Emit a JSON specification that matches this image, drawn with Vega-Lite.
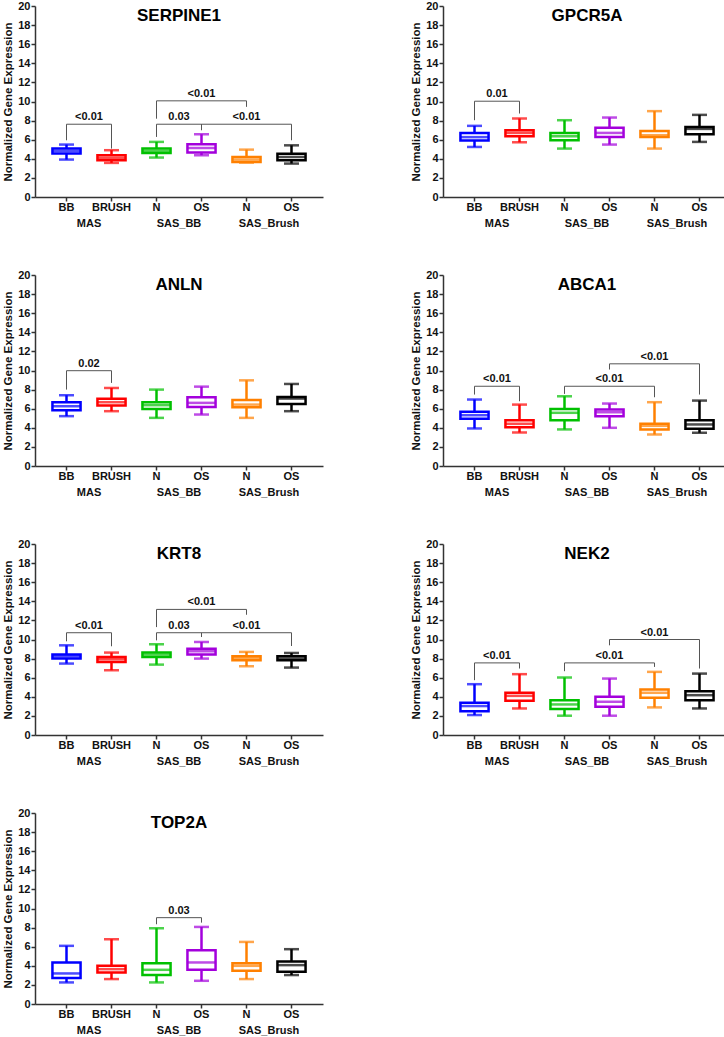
{
  "$schema": "https://vega.github.io/schema/vega-lite/v6.json",
  "padding": {"left": 2, "top": 0, "right": 0, "bottom": 12},
  "config": {
    "font": "Liberation Sans",
    "view": {"stroke": null},
    "header": {"labels": false, "title": null, "labelExpr": "''", "labelFontSize": 0, "labelPadding": 0},
    "axis": {"labelFont": "Liberation Sans", "titleFont": "Liberation Sans", "labelColor": "#111", "titleColor": "#111", "domainColor": "#333", "domainWidth": 1.5, "tickColor": "#333", "tickWidth": 1.5, "grid": false, "labelFontSize": 11, "labelFontWeight": "bold", "tickSize": 4},
    "axisY": {"tickCount": 10, "labelOverlap": false, "labelPadding": 1, "titleFontSize": 11.5, "titleFontWeight": "bold", "titlePadding": 4}
  },
  "data": {"values": [
    {"gene": "SERPINE1", "cond": "MAS BB", "min": 3.92, "q1": 4.55, "med": 4.83, "q3": 5.07, "max": 5.49},
    {"gene": "SERPINE1", "cond": "MAS BRUSH", "min": 3.57, "q1": 3.85, "med": 4.1, "q3": 4.37, "max": 4.9},
    {"gene": "SERPINE1", "cond": "SAS_BB N", "min": 4.13, "q1": 4.6, "med": 4.83, "q3": 5.07, "max": 5.77},
    {"gene": "SERPINE1", "cond": "SAS_BB OS", "min": 4.37, "q1": 4.65, "med": 5.13, "q3": 5.52, "max": 6.57},
    {"gene": "SERPINE1", "cond": "SAS_Brush N", "min": 3.6, "q1": 3.67, "med": 3.92, "q3": 4.19, "max": 4.96},
    {"gene": "SERPINE1", "cond": "SAS_Brush OS", "min": 3.5, "q1": 3.84, "med": 4.19, "q3": 4.54, "max": 5.41},
    {"gene": "GPCR5A", "cond": "MAS BB", "min": 5.24, "q1": 5.92, "med": 6.27, "q3": 6.71, "max": 7.45},
    {"gene": "GPCR5A", "cond": "MAS BRUSH", "min": 5.73, "q1": 6.36, "med": 6.71, "q3": 7.0, "max": 8.22},
    {"gene": "GPCR5A", "cond": "SAS_BB N", "min": 5.07, "q1": 5.94, "med": 6.36, "q3": 6.71, "max": 8.04},
    {"gene": "GPCR5A", "cond": "SAS_BB OS", "min": 5.49, "q1": 6.29, "med": 6.71, "q3": 7.24, "max": 8.32},
    {"gene": "GPCR5A", "cond": "SAS_Brush N", "min": 5.07, "q1": 6.29, "med": 6.47, "q3": 6.92, "max": 8.99},
    {"gene": "GPCR5A", "cond": "SAS_Brush OS", "min": 5.77, "q1": 6.57, "med": 7.13, "q3": 7.34, "max": 8.6},
    {"gene": "ANLN", "cond": "MAS BB", "min": 5.22, "q1": 5.84, "med": 6.26, "q3": 6.68, "max": 7.41},
    {"gene": "ANLN", "cond": "MAS BRUSH", "min": 5.74, "q1": 6.33, "med": 6.68, "q3": 7.03, "max": 8.17},
    {"gene": "ANLN", "cond": "SAS_BB N", "min": 5.04, "q1": 5.98, "med": 6.37, "q3": 6.68, "max": 8.0},
    {"gene": "ANLN", "cond": "SAS_BB OS", "min": 5.39, "q1": 6.19, "med": 6.61, "q3": 7.2, "max": 8.31},
    {"gene": "ANLN", "cond": "SAS_Brush N", "min": 5.04, "q1": 6.16, "med": 6.43, "q3": 6.92, "max": 8.97},
    {"gene": "ANLN", "cond": "SAS_Brush OS", "min": 5.74, "q1": 6.5, "med": 7.06, "q3": 7.23, "max": 8.59},
    {"gene": "ABCA1", "cond": "MAS BB", "min": 3.93, "q1": 4.94, "med": 5.32, "q3": 5.67, "max": 6.96},
    {"gene": "ABCA1", "cond": "MAS BRUSH", "min": 3.51, "q1": 4.07, "med": 4.42, "q3": 4.8, "max": 6.43},
    {"gene": "ABCA1", "cond": "SAS_BB N", "min": 3.83, "q1": 4.8, "med": 5.57, "q3": 5.98, "max": 7.3},
    {"gene": "ABCA1", "cond": "SAS_BB OS", "min": 4.0, "q1": 5.22, "med": 5.63, "q3": 5.91, "max": 6.54},
    {"gene": "ABCA1", "cond": "SAS_Brush N", "min": 3.3, "q1": 3.83, "med": 4.21, "q3": 4.42, "max": 6.68},
    {"gene": "ABCA1", "cond": "SAS_Brush OS", "min": 3.48, "q1": 3.9, "med": 4.35, "q3": 4.8, "max": 6.85},
    {"gene": "KRT8", "cond": "MAS BB", "min": 7.48, "q1": 8.0, "med": 8.24, "q3": 8.42, "max": 9.39},
    {"gene": "KRT8", "cond": "MAS BRUSH", "min": 6.78, "q1": 7.65, "med": 7.93, "q3": 8.17, "max": 8.63},
    {"gene": "KRT8", "cond": "SAS_BB N", "min": 7.37, "q1": 8.17, "med": 8.42, "q3": 8.63, "max": 9.5},
    {"gene": "KRT8", "cond": "SAS_BB OS", "min": 8.0, "q1": 8.42, "med": 8.77, "q3": 9.04, "max": 9.74},
    {"gene": "KRT8", "cond": "SAS_Brush N", "min": 7.2, "q1": 7.83, "med": 8.07, "q3": 8.24, "max": 8.7},
    {"gene": "KRT8", "cond": "SAS_Brush OS", "min": 7.06, "q1": 7.83, "med": 8.0, "q3": 8.24, "max": 8.59},
    {"gene": "NEK2", "cond": "MAS BB", "min": 2.09, "q1": 2.5, "med": 3.03, "q3": 3.37, "max": 5.32},
    {"gene": "NEK2", "cond": "MAS BRUSH", "min": 2.78, "q1": 3.58, "med": 4.1, "q3": 4.42, "max": 6.37},
    {"gene": "NEK2", "cond": "SAS_BB N", "min": 2.02, "q1": 2.71, "med": 3.2, "q3": 3.65, "max": 6.02},
    {"gene": "NEK2", "cond": "SAS_BB OS", "min": 2.02, "q1": 2.96, "med": 3.48, "q3": 4.0, "max": 5.91},
    {"gene": "NEK2", "cond": "SAS_Brush N", "min": 2.89, "q1": 3.9, "med": 4.42, "q3": 4.77, "max": 6.61},
    {"gene": "NEK2", "cond": "SAS_Brush OS", "min": 2.78, "q1": 3.65, "med": 4.17, "q3": 4.59, "max": 6.43},
    {"gene": "TOP2A", "cond": "MAS BB", "min": 2.26, "q1": 2.71, "med": 3.2, "q3": 4.35, "max": 6.09},
    {"gene": "TOP2A", "cond": "MAS BRUSH", "min": 2.61, "q1": 3.3, "med": 3.65, "q3": 4.0, "max": 6.78},
    {"gene": "TOP2A", "cond": "SAS_BB N", "min": 2.26, "q1": 3.03, "med": 3.58, "q3": 4.28, "max": 7.93},
    {"gene": "TOP2A", "cond": "SAS_BB OS", "min": 2.43, "q1": 3.58, "med": 4.35, "q3": 5.63, "max": 8.07},
    {"gene": "TOP2A", "cond": "SAS_Brush N", "min": 2.61, "q1": 3.48, "med": 4.0, "q3": 4.28, "max": 6.5},
    {"gene": "TOP2A", "cond": "SAS_Brush OS", "min": 3.03, "q1": 3.37, "med": 4.07, "q3": 4.45, "max": 5.74},
    {"gene": "SERPINE1", "from": "MAS BB", "to": "MAS BRUSH", "mid": "m1", "lev": 7.62, "lo1": 5.94, "lo2": 5.07, "p": "<0.01"},
    {"gene": "SERPINE1", "from": "SAS_BB N", "to": "SAS_Brush N", "mid": "SAS_BB OS", "lev": 10.07, "lo1": 8.2, "lo2": 9.44, "p": "<0.01"},
    {"gene": "SERPINE1", "from": "SAS_BB N", "to": "SAS_BB OS", "mid": "m3", "lev": 7.62, "lo1": 6.29, "lo2": 7.0, "p": "0.03"},
    {"gene": "SERPINE1", "from": "SAS_BB OS", "to": "SAS_Brush OS", "mid": "SAS_Brush N", "lev": 7.62, "lo1": 7.0, "lo2": 5.94, "p": "<0.01"},
    {"gene": "GPCR5A", "from": "MAS BB", "to": "MAS BRUSH", "mid": "m1", "lev": 10.03, "lo1": 8.04, "lo2": 8.74, "p": "0.01"},
    {"gene": "ANLN", "from": "MAS BB", "to": "MAS BRUSH", "mid": "m1", "lev": 9.98, "lo1": 8.0, "lo2": 8.7, "p": "0.02"},
    {"gene": "ABCA1", "from": "MAS BB", "to": "MAS BRUSH", "mid": "m1", "lev": 8.35, "lo1": 7.48, "lo2": 6.78, "p": "<0.01"},
    {"gene": "ABCA1", "from": "SAS_BB N", "to": "SAS_Brush N", "mid": "SAS_BB OS", "lev": 8.35, "lo1": 7.55, "lo2": 7.2, "p": "<0.01"},
    {"gene": "ABCA1", "from": "SAS_BB OS", "to": "SAS_Brush OS", "mid": "SAS_Brush N", "lev": 10.7, "lo1": 10.1, "lo2": 7.48, "p": "<0.01"},
    {"gene": "KRT8", "from": "MAS BB", "to": "MAS BRUSH", "mid": "m1", "lev": 10.71, "lo1": 9.81, "lo2": 9.29, "p": "<0.01"},
    {"gene": "KRT8", "from": "SAS_BB N", "to": "SAS_Brush N", "mid": "SAS_BB OS", "lev": 13.15, "lo1": 11.3, "lo2": 12.59, "p": "<0.01"},
    {"gene": "KRT8", "from": "SAS_BB N", "to": "SAS_BB OS", "mid": "m3", "lev": 10.71, "lo1": 9.91, "lo2": 10.26, "p": "0.03"},
    {"gene": "KRT8", "from": "SAS_BB OS", "to": "SAS_Brush OS", "mid": "SAS_Brush N", "lev": 10.71, "lo1": 10.26, "lo2": 9.32, "p": "<0.01"},
    {"gene": "NEK2", "from": "MAS BB", "to": "MAS BRUSH", "mid": "m1", "lev": 7.55, "lo1": 5.74, "lo2": 6.96, "p": "<0.01"},
    {"gene": "NEK2", "from": "SAS_BB N", "to": "SAS_Brush N", "mid": "SAS_BB OS", "lev": 7.55, "lo1": 6.68, "lo2": 7.13, "p": "<0.01"},
    {"gene": "NEK2", "from": "SAS_BB OS", "to": "SAS_Brush OS", "mid": "SAS_Brush N", "lev": 10.0, "lo1": 9.39, "lo2": 6.96, "p": "<0.01"},
    {"gene": "TOP2A", "from": "SAS_BB N", "to": "SAS_BB OS", "mid": "m3", "lev": 9.04, "lo1": 8.35, "lo2": 8.52, "p": "0.03"}
  ]},
  "facet": {"field": "gene", "type": "nominal", "title": null, "sort": ["SERPINE1", "GPCR5A", "ANLN", "ABCA1", "KRT8", "NEK2", "TOP2A"], "header": {"title": null, "labels": false, "labelExpr": "''", "labelFontSize": 0, "labelPadding": 0}},
  "columns": 2,
  "spacing": {"row": 41, "column": 87},
  "resolve": {"axis": {"x": "independent", "y": "independent"}},
  "spec": {
    "width": 288,
    "height": 191,
    "layer": [
      {
        "transform": [{"filter": "datum.cond != null"}],
        "mark": {"type": "rule", "strokeWidth": 2.5},
        "encoding": {
          "x": {"field": "cond", "type": "nominal", "title": null,
            "scale": {"domain": ["MAS BB", "m1", "MAS BRUSH", "m2", "SAS_BB N", "m3", "SAS_BB OS", "m4", "SAS_Brush N", "m5", "SAS_Brush OS"], "paddingInner": 0, "paddingOuter": 0.9},
            "axis": {"title": null, "values": ["MAS BB", "m1", "MAS BRUSH", "SAS_BB N", "m3", "SAS_BB OS", "SAS_Brush N", "m5", "SAS_Brush OS"],
              "labelExpr": "datum.value == 'm1' ? ['', 'MAS'] : datum.value == 'm3' ? ['', 'SAS_BB'] : datum.value == 'm5' ? ['', 'SAS_Brush'] : split(datum.value, ' ')[1]",
              "labelAngle": 0, "labelLineHeight": 16, "labelOverlap": false, "labelBaseline": "top", "labelPadding": 0,
              "tickOpacity": {"condition": {"test": "indexof(datum.value, 'm') == 0", "value": 0}, "value": 1}}},
          "y": {"field": "min", "type": "quantitative", "title": "Normalized Gene Expression", "scale": {"domain": [0, 20], "nice": false},
            "axis": {"title": "Normalized Gene Expression", "tickCount": 10, "labelOverlap": false}},
          "y2": {"field": "max"},
          "color": {"field": "cond", "type": "nominal", "legend": null, "scale": {"domain": ["MAS BB", "MAS BRUSH", "SAS_BB N", "SAS_BB OS", "SAS_Brush N", "SAS_Brush OS"], "range": ["#0000FF", "#FF0000", "#00C000", "#A300DC", "#FF8000", "#000000"]}}
        }
      },
      {
        "transform": [{"filter": "datum.cond != null"}, {"fold": ["min", "max"], "as": ["stat", "v"]}],
        "mark": {"type": "tick", "thickness": 2.5, "size": 15},
        "encoding": {
          "x": {"field": "cond", "type": "nominal", "scale": {"domain": ["MAS BB", "m1", "MAS BRUSH", "m2", "SAS_BB N", "m3", "SAS_BB OS", "m4", "SAS_Brush N", "m5", "SAS_Brush OS"]}},
          "y": {"field": "v", "type": "quantitative", "scale": {"domain": [0, 20], "nice": false}},
          "color": {"field": "cond", "type": "nominal", "legend": null}
        }
      },
      {
        "transform": [{"filter": "datum.cond != null"}],
        "mark": {"type": "bar", "fill": "white", "strokeWidth": 2.5, "width": {"band": 1.25}},
        "encoding": {
          "x": {"field": "cond", "type": "nominal", "scale": {"domain": ["MAS BB", "m1", "MAS BRUSH", "m2", "SAS_BB N", "m3", "SAS_BB OS", "m4", "SAS_Brush N", "m5", "SAS_Brush OS"]}},
          "y": {"field": "q1", "type": "quantitative", "scale": {"domain": [0, 20], "nice": false}},
          "y2": {"field": "q3"},
          "stroke": {"field": "cond", "type": "nominal", "legend": null, "scale": {"domain": ["MAS BB", "MAS BRUSH", "SAS_BB N", "SAS_BB OS", "SAS_Brush N", "SAS_Brush OS"], "range": ["#0000FF", "#FF0000", "#00C000", "#A300DC", "#FF8000", "#000000"]}}
        }
      },
      {
        "transform": [{"filter": "datum.cond != null"}],
        "mark": {"type": "tick", "thickness": 2.5, "size": 27},
        "encoding": {
          "x": {"field": "cond", "type": "nominal", "scale": {"domain": ["MAS BB", "m1", "MAS BRUSH", "m2", "SAS_BB N", "m3", "SAS_BB OS", "m4", "SAS_Brush N", "m5", "SAS_Brush OS"]}},
          "y": {"field": "med", "type": "quantitative", "scale": {"domain": [0, 20], "nice": false}},
          "color": {"field": "cond", "type": "nominal", "legend": null}
        }
      },
      {
        "transform": [{"filter": "datum.from != null"}],
        "mark": {"type": "rule", "color": "#555", "strokeWidth": 1},
        "encoding": {
          "x": {"field": "from", "type": "nominal", "scale": {"domain": ["MAS BB", "m1", "MAS BRUSH", "m2", "SAS_BB N", "m3", "SAS_BB OS", "m4", "SAS_Brush N", "m5", "SAS_Brush OS"]}},
          "x2": {"field": "to"},
          "y": {"field": "lev", "type": "quantitative", "scale": {"domain": [0, 20], "nice": false}}
        }
      },
      {
        "transform": [{"filter": "datum.from != null"}],
        "mark": {"type": "rule", "color": "#555", "strokeWidth": 1},
        "encoding": {
          "x": {"field": "from", "type": "nominal", "scale": {"domain": ["MAS BB", "m1", "MAS BRUSH", "m2", "SAS_BB N", "m3", "SAS_BB OS", "m4", "SAS_Brush N", "m5", "SAS_Brush OS"]}},
          "y": {"field": "lev", "type": "quantitative", "scale": {"domain": [0, 20], "nice": false}},
          "y2": {"field": "lo1"}
        }
      },
      {
        "transform": [{"filter": "datum.from != null"}],
        "mark": {"type": "rule", "color": "#555", "strokeWidth": 1},
        "encoding": {
          "x": {"field": "to", "type": "nominal", "scale": {"domain": ["MAS BB", "m1", "MAS BRUSH", "m2", "SAS_BB N", "m3", "SAS_BB OS", "m4", "SAS_Brush N", "m5", "SAS_Brush OS"]}},
          "y": {"field": "lev", "type": "quantitative", "scale": {"domain": [0, 20], "nice": false}},
          "y2": {"field": "lo2"}
        }
      },
      {
        "transform": [{"filter": "datum.from != null"}],
        "mark": {"type": "text", "fontSize": 11, "fontWeight": "bold", "baseline": "alphabetic", "dy": -4, "color": "#111"},
        "encoding": {
          "x": {"field": "mid", "type": "nominal", "scale": {"domain": ["MAS BB", "m1", "MAS BRUSH", "m2", "SAS_BB N", "m3", "SAS_BB OS", "m4", "SAS_Brush N", "m5", "SAS_Brush OS"]}},
          "y": {"field": "lev", "type": "quantitative", "scale": {"domain": [0, 20], "nice": false}},
          "text": {"field": "p"}
        }
      },
      {
        "transform": [{"filter": "datum.cond == 'MAS BB'"}],
        "mark": {"type": "text", "fontSize": 17, "fontWeight": "bold", "baseline": "middle", "color": "#000"},
        "encoding": {
          "x": {"datum": "m3", "type": "nominal", "scale": {"domain": ["MAS BB", "m1", "MAS BRUSH", "m2", "SAS_BB N", "m3", "SAS_BB OS", "m4", "SAS_Brush N", "m5", "SAS_Brush OS"]}},
          "y": {"datum": 19, "type": "quantitative", "scale": {"domain": [0, 20], "nice": false}},
          "text": {"field": "gene"}
        }
      }
    ]
  }
}
